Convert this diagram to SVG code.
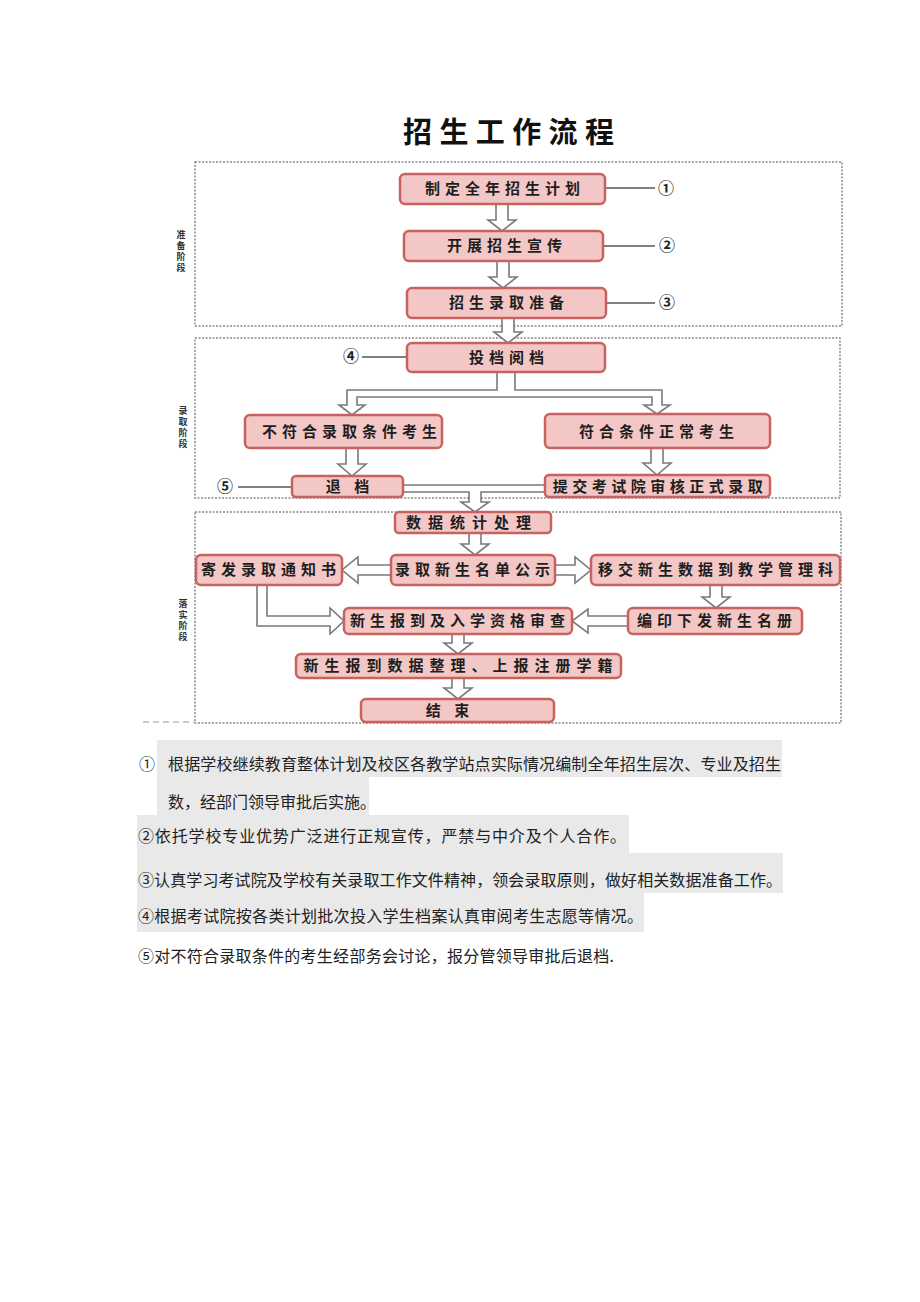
<svg xmlns="http://www.w3.org/2000/svg" width="920" height="1302" viewBox="0 0 920 1302">
<style>
.sec{fill:none;stroke:#8a8a8a;stroke-width:1.5;stroke-dasharray:2 1.5}
.box{fill:#f3c7c5;stroke:#c8625e;stroke-width:2.5}
.bt{font-family:"Noto Sans CJK SC","Noto Sans",sans-serif;font-size:15px;font-weight:700;fill:#1e1e1e;text-anchor:middle;letter-spacing:5px}
.side{font-family:"Noto Sans CJK SC",sans-serif;font-size:9px;font-weight:700;fill:#333;text-anchor:middle}
.conn{fill:#fff;stroke:#7a7a7a;stroke-width:1.6;stroke-linejoin:miter}
.lead{stroke:#555;stroke-width:1.6;fill:none}
.num{font-family:"Noto Sans CJK SC","DejaVu Sans",sans-serif;font-size:16px;font-weight:700;fill:#222;text-anchor:middle}
.note{font-family:"Noto Sans CJK SC",sans-serif;font-size:16px;fill:#222}
.hl{fill:#e9e9e9}
</style>
<rect width="920" height="1302" fill="#fff"/>
<text x="403" y="143" font-family="'Noto Sans CJK SC',sans-serif" font-size="29" font-weight="700" fill="#111" textLength="211" lengthAdjust="spacing">招生工作流程</text>

<g id="sections">
<rect class="sec" x="195" y="162" width="647" height="164"/>
<rect class="sec" x="195" y="338" width="645" height="160"/>
<rect class="sec" x="195" y="512" width="646" height="211"/>
<line x1="143" y1="722" x2="195" y2="722" stroke="#bbb" stroke-width="1.5" stroke-dasharray="6 4"/>
<text class="side" x="181"><tspan x="181" y="238">准</tspan><tspan x="181" y="249">备</tspan><tspan x="181" y="260">阶</tspan><tspan x="181" y="271">段</tspan></text>
<text class="side" x="183"><tspan x="183" y="414">录</tspan><tspan x="183" y="425">取</tspan><tspan x="183" y="436">阶</tspan><tspan x="183" y="447">段</tspan></text>
<text class="side" x="183"><tspan x="183" y="607">落</tspan><tspan x="183" y="618">实</tspan><tspan x="183" y="629">阶</tspan><tspan x="183" y="640">段</tspan></text>
</g>

<g id="connectors">
<path class="conn" d="M496,204 V220 H488 L502,231 L516,220 H508 V204 Z"/>
<path class="conn" d="M497,261 V277 H489 L503,288 L517,277 H509 V261 Z"/>
<path class="conn" d="M502,318 V332 H494 L508,343 L522,332 H514 V318 Z"/>
<path class="conn" d="M497,372 V390 H347 V405 H339 L352,415 L365,405 H357 V397 H652 V405 H644 L657,414 L670,405 H662 V390 H515 V372 Z"/>
<path class="conn" d="M346,448 V464 H338 L352,476 L366,464 H358 V448 Z"/>
<path class="conn" d="M651,448 V463 H643 L657,475 L671,463 H663 V448 Z"/>
<path class="conn" d="M403,485 H545 V492 H481 V502 H489 L475,512 L461,502 H469 V492 H403 Z"/>
<path class="conn" d="M469,533 V544 H461 L475,555 L489,544 H481 V533 Z"/>
<path class="conn" d="M391,565 H358 V557 L342,570 L358,583 V575 H391 Z"/>
<path class="conn" d="M555,565 H575 V557 L591,570 L575,583 V575 H555 Z"/>
<path class="conn" d="M710,585 V597 H702 L716,608 L730,597 H722 V585 Z"/>
<path class="conn" d="M628,616 H588 V609 L572,621 L588,633 V626 H628 Z"/>
<path class="conn" d="M257,585 V626 H330 V634 L344,621 L330,608 V616 H267 V585 Z"/>
<path class="conn" d="M452,634 V643 H444 L458,654 L472,643 H464 V634 Z"/>
<path class="conn" d="M452,678 V688 H444 L458,699 L472,688 H464 V678 Z"/>
<line class="lead" x1="605" y1="188" x2="655" y2="188"/>
<line class="lead" x1="603" y1="246" x2="655" y2="246"/>
<line class="lead" x1="606" y1="303" x2="655" y2="303"/>
<line class="lead" x1="362" y1="357" x2="407" y2="357"/>
<line class="lead" x1="238" y1="487" x2="292" y2="487"/>
</g>

<g id="n1"><rect class="box" x="400" y="174" width="205" height="30" rx="5"/><text class="bt" x="505" y="194">制定全年招生计划</text></g>
<g id="c1"><text class="num" x="666" y="194">①</text></g>
<g id="n2"><rect class="box" x="404" y="231" width="199" height="30" rx="5"/><text class="bt" x="507" y="251">开展招生宣传</text></g>
<g id="c2"><text class="num" x="667" y="251">②</text></g>
<g id="n3"><rect class="box" x="407" y="288" width="199" height="30" rx="5"/><text class="bt" x="509" y="308">招生录取准备</text></g>
<g id="c3"><text class="num" x="667" y="308">③</text></g>
<g id="n4"><rect class="box" x="407" y="343" width="198" height="29" rx="5"/><text class="bt" x="509" y="363">投档阅档</text></g>
<g id="c4"><text class="num" x="351" y="362">④</text></g>
<g id="n5"><rect class="box" x="245" y="415" width="197" height="33" rx="5"/><text class="bt" x="352" y="437">不符合录取条件考生</text></g>
<g id="n6"><rect class="box" x="545" y="414" width="225" height="34" rx="5"/><text class="bt" x="659" y="437">符合条件正常考生</text></g>
<g id="n7"><rect class="box" x="292" y="476" width="111" height="21" rx="4"/><text class="bt" x="350" y="492">退 档</text></g>
<g id="c5"><text class="num" x="225" y="492">⑤</text></g>
<g id="n8"><rect class="box" x="545" y="475" width="225" height="22" rx="4"/><text class="bt" x="660" y="492" style="letter-spacing:4.5px">提交考试院审核正式录取</text></g>
<g id="n9"><rect class="box" x="395" y="512" width="156" height="21" rx="4"/><text class="bt" x="472" y="528" style="letter-spacing:7px">数据统计处理</text></g>
<g id="n10"><rect class="box" x="391" y="555" width="164" height="30" rx="5"/><text class="bt" x="475" y="575">录取新生名单公示</text></g>
<g id="n11"><rect class="box" x="196" y="555" width="146" height="30" rx="5"/><text class="bt" x="271" y="575">寄发录取通知书</text></g>
<g id="n12"><rect class="box" x="591" y="555" width="249" height="30" rx="5"/><text class="bt" x="718" y="575">移交新生数据到教学管理科</text></g>
<g id="n13"><rect class="box" x="628" y="608" width="174" height="26" rx="5"/><text class="bt" x="717" y="626">编印下发新生名册</text></g>
<g id="n14"><rect class="box" x="344" y="608" width="228" height="26" rx="5"/><text class="bt" x="460" y="626">新生报到及入学资格审查</text></g>
<g id="n15"><rect class="box" x="296" y="654" width="325" height="24" rx="5"/><text class="bt" x="461" y="671" style="letter-spacing:6px">新生报到数据整理、上报注册学籍</text></g>
<g id="n16"><rect class="box" x="361" y="699" width="193" height="23" rx="5"/><text class="bt" x="450" y="716">结  束</text></g>

<g id="notes">
<rect class="hl" x="157" y="740" width="625" height="37"/>
<rect class="hl" x="157" y="777" width="212" height="38"/>
<rect class="hl" x="137" y="815" width="492" height="38"/>
<rect class="hl" x="137" y="853" width="646" height="40"/>
<rect class="hl" x="137" y="893" width="507" height="39"/>
<text class="note" x="139" y="770">①</text>
<text class="note" x="168" y="770" textLength="613" lengthAdjust="spacing">根据学校继续教育整体计划及校区各教学站点实际情况编制全年招生层次、专业及招生</text>
<text class="note" x="168" y="808">数，经部门领导审批后实施。</text>
<text class="note" x="138" y="842" textLength="488" lengthAdjust="spacing">②依托学校专业优势广泛进行正规宣传，严禁与中介及个人合作。</text>
<text class="note" x="138" y="886" textLength="644" lengthAdjust="spacing">③认真学习考试院及学校有关录取工作文件精神，领会录取原则，做好相关数据准备工作。</text>
<text class="note" x="138" y="922" textLength="505" lengthAdjust="spacing">④根据考试院按各类计划批次投入学生档案认真审阅考生志愿等情况。</text>
<text class="note" x="138" y="962" textLength="476" lengthAdjust="spacing">⑤对不符合录取条件的考生经部务会讨论，报分管领导审批后退档.</text>
</g>
</svg>
